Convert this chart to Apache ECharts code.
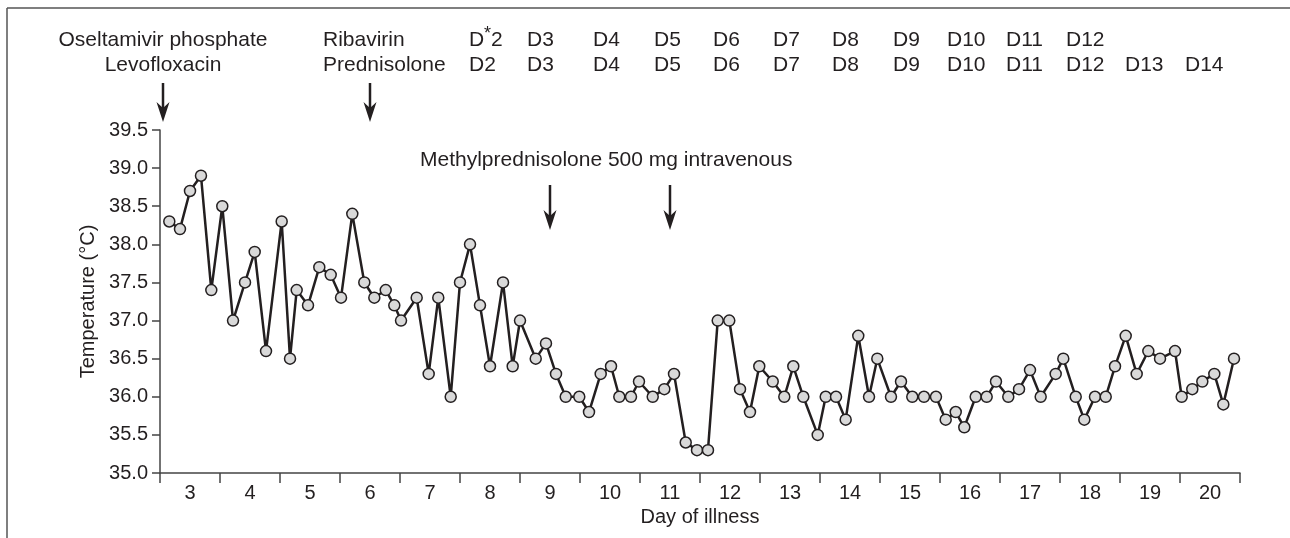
<!DOCTYPE html>
<html><head><meta charset="utf-8">
<script src="https://cdn.jsdelivr.net/npm/echarts@6/dist/echarts.min.js"></script>
<style>html,body{margin:0;padding:0;background:#fff}#c{width:1290px;height:538px}</style>
</head><body><div id="c"></div>
<script>
// ---- data ----
const dayLabels = ['3','4','5','6','7','8','9','10','11','12','13','14','15','16','17','18','19','20'];
const timeDays = [
  2.655, 2.833, 3.0, 3.183, 3.355, 3.538, 3.717, 3.917, 4.078, 4.267,
  4.528, 4.667, 4.778, 4.967, 5.155, 5.345, 5.517, 5.705, 5.905, 6.072,
  6.262, 6.405, 6.517, 6.778, 6.978, 7.138, 7.345, 7.5, 7.667, 7.833,
  8.0, 8.217, 8.378, 8.5, 8.762, 8.933, 9.1, 9.262, 9.488, 9.65,
  9.845, 10.017, 10.155, 10.35, 10.483, 10.712, 10.905, 11.067, 11.262, 11.45,
  11.633, 11.795, 11.988, 12.167, 12.333, 12.488, 12.712, 12.905, 13.055, 13.222,
  13.462, 13.595, 13.767, 13.928, 14.138, 14.317, 14.455, 14.683, 14.85, 15.038,
  15.233, 15.433, 15.595, 15.762, 15.905, 16.095, 16.278, 16.433, 16.638, 16.817,
  17.0, 17.178, 17.428, 17.555, 17.762, 17.905, 18.083, 18.262, 18.417, 18.595,
  18.778, 18.972, 19.167, 19.417, 19.528, 19.705, 19.872, 20.072, 20.222, 20.4
];
const temps = [
  38.3, 38.2, 38.7, 38.9, 37.4, 38.5, 37.0, 37.5, 37.9, 36.6,
  38.3, 36.5, 37.4, 37.2, 37.7, 37.6, 37.3, 38.4, 37.5, 37.3,
  37.4, 37.2, 37.0, 37.3, 36.3, 37.3, 36.0, 37.5, 38.0, 37.2,
  36.4, 37.5, 36.4, 37.0, 36.5, 36.7, 36.3, 36.0, 36.0, 35.8,
  36.3, 36.4, 36.0, 36.0, 36.2, 36.0, 36.1, 36.3, 35.4, 35.3,
  35.3, 37.0, 37.0, 36.1, 35.8, 36.4, 36.2, 36.0, 36.4, 36.0,
  35.5, 36.0, 36.0, 35.7, 36.8, 36.0, 36.5, 36.0, 36.2, 36.0,
  36.0, 36.0, 35.7, 35.8, 35.6, 36.0, 36.0, 36.2, 36.0, 36.1,
  36.35, 36.0, 36.3, 36.5, 36.0, 35.7, 36.0, 36.0, 36.4, 36.8,
  36.3, 36.6, 36.5, 36.6, 36.0, 36.1, 36.2, 36.3, 35.9, 36.5
];
const drugsStart = ['Oseltamivir phosphate', 'Levofloxacin'];
const drugsSecond = ['Ribavirin', 'Prednisolone'];
const ribavirinDays = ['D2','D3','D4','D5','D6','D7','D8','D9','D10','D11','D12'];
const prednisoloneDays = ['D2','D3','D4','D5','D6','D7','D8','D9','D10','D11','D12','D13','D14'];
const methylLabel = 'Methylprednisolone 500 mg intravenous';
const drugArrowDays = [2.55, 6.0];
const methylArrowDays = [9.0, 11.0];

// ---- layout ----
const FONT = '"Liberation Sans", Arial, Helvetica, sans-serif';
const INK = '#231f20';
const dayLabelX = [469, 527, 593, 654, 713, 773, 832, 893, 947, 1006, 1066, 1125, 1185];

const chart = echarts.init(document.getElementById('c'), null, {renderer: 'canvas'});
chart.setOption({
  animation: false,
  backgroundColor: '#fff',
  grid: {left: 160, right: 50, top: 130, bottom: 65},
  xAxis: [
    {
      type: 'category', data: dayLabels, boundaryGap: true,
      axisLine: {lineStyle: {color: '#444', width: 1.5}},
      axisTick: {show: true, length: 10, lineStyle: {color: '#444', width: 1.5}},
      axisLabel: {fontSize: 20, fontFamily: FONT, color: INK, margin: 10},
      name: 'Day of illness', nameLocation: 'middle', nameGap: 34,
      nameTextStyle: {fontSize: 20, fontFamily: FONT, color: INK}
    },
    {type: 'value', min: 2.5, max: 20.5, show: false}
  ],
  yAxis: {
    type: 'value', min: 35, max: 39.5, interval: 0.5,
    axisLine: {show: true, lineStyle: {color: '#444', width: 1.5}},
    axisTick: {show: true, length: 8, lineStyle: {color: '#444', width: 1.5}},
    splitLine: {show: false},
    axisLabel: {fontSize: 20, fontFamily: FONT, color: INK, margin: 12, formatter: v => v.toFixed(1)},
    name: 'Temperature (°C)', nameLocation: 'middle', nameGap: 62, nameRotate: 90,
    nameTextStyle: {fontSize: 20, fontFamily: FONT, color: INK}
  },
  series: [{
    type: 'line', xAxisIndex: 1,
    data: timeDays.map((d, i) => [d, temps[i]]),
    symbol: 'circle', symbolSize: 11,
    itemStyle: {color: '#d9d9d9', borderColor: '#231f20', borderWidth: 1.5},
    lineStyle: {color: '#231f20', width: 2.5}
  }]
});

function text(t, x, y, align, size) {
  return {type: 'text', z: 10, style: {text: t, x: x, y: y, fontSize: size || 21, fontFamily: FONT,
    fill: INK, align: align || 'left', verticalAlign: 'middle'}};
}
function arrow(x, y1, y2) {
  return [
    {type: 'line', z: 10, shape: {x1: x, y1: y1, x2: x, y2: y2 - 10}, style: {stroke: INK, lineWidth: 2.5}},
    {type: 'polygon', z: 10, shape: {points: [[x - 6.5, y2 - 20], [x, y2], [x + 6.5, y2 - 20], [x, y2 - 14]]}, style: {fill: INK}}
  ];
}
const px = d => chart.convertToPixel({xAxisIndex: 1}, d);
const g = [];
g.push({type: 'line', shape: {x1: 7, y1: 8, x2: 1290, y2: 8}, style: {stroke: '#555', lineWidth: 1.5}});
g.push({type: 'line', shape: {x1: 7, y1: 8, x2: 7, y2: 538}, style: {stroke: '#555', lineWidth: 1.5}});
const ax0 = px(drugArrowDays[0]), ax1 = px(drugArrowDays[1]);
g.push(text(drugsStart[0], ax0, 40, 'center'));
g.push(text(drugsStart[1], ax0, 65, 'center'));
g.push(text(drugsSecond[0], 323, 40, 'left'));
g.push(text(drugsSecond[1], 323, 65, 'left'));
ribavirinDays.forEach((t, i) => {
  const x = dayLabelX[i];
  if (i === 0) {
    g.push(text('D', x, 40, 'left'));
    g.push(text('*', x + 15, 34, 'left', 18));
    g.push(text('2', x + 22, 40, 'left'));
  } else {
    g.push(text(t, x, 40, 'left'));
  }
});
prednisoloneDays.forEach((t, i) => g.push(text(t, dayLabelX[i], 65, 'left')));
g.push(...arrow(ax0, 83, 122));
g.push(...arrow(ax1, 83, 122));
g.push(text(methylLabel, 420, 160, 'left'));
methylArrowDays.forEach(d => g.push(...arrow(px(d), 185, 230)));
chart.setOption({graphic: g});
</script>
</body></html>
